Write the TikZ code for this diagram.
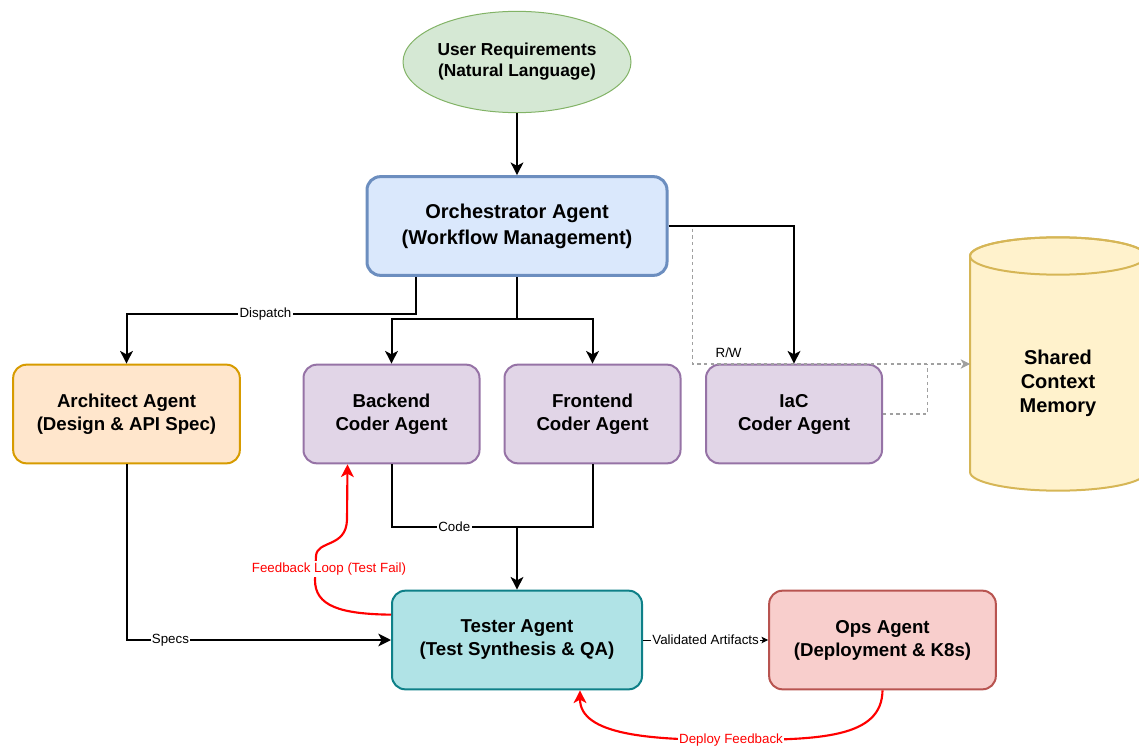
\documentclass[tikz,border=0pt]{standalone}
\usepackage{fontspec}
\setmainfont{Liberation Sans}
\usepackage{tikz}
\usetikzlibrary{arrows.meta, positioning, shapes.geometric}

\definecolor{usrfill}{HTML}{D5E8D4}  \definecolor{usrline}{HTML}{82B366}
\definecolor{orcfill}{HTML}{DAE8FC}  \definecolor{orcline}{HTML}{6C8EBF}
\definecolor{arcfill}{HTML}{FFE6CC}  \definecolor{arcline}{HTML}{D79B00}
\definecolor{codfill}{HTML}{E1D5E7}  \definecolor{codline}{HTML}{9673A6}
\definecolor{tstfill}{HTML}{B0E3E6}  \definecolor{tstline}{HTML}{0E8088}
\definecolor{opsfill}{HTML}{F8CECC}  \definecolor{opsline}{HTML}{B85450}
\definecolor{memfill}{HTML}{FFF2CC}  \definecolor{memline}{HTML}{D6B656}
\definecolor{rwgray}{HTML}{A0A0A0}
\definecolor{fbred}{HTML}{FF0000}

\newcommand{\userfont}{\fontsize{13}{15.75}\selectfont\bfseries}
\newcommand{\orchfont}{\fontsize{15}{19.5}\selectfont\bfseries}
\newcommand{\agentfont}{\fontsize{14}{17.25}\selectfont\bfseries}
\newcommand{\memfont}{\fontsize{15}{18}\selectfont\bfseries}
\newcommand{\lblfont}{\fontsize{10}{12}\selectfont}

\tikzset{
  agentbox/.style = {draw, rounded corners=10pt, line width=1.5pt, align=center,
                     inner sep=0pt, minimum height=74pt, font=\agentfont},
  archbox/.style  = {agentbox, draw=arcline, fill=arcfill, minimum width=170pt},
  coderbox/.style = {agentbox, draw=codline, fill=codfill, minimum width=132pt},
  testbox/.style  = {agentbox, draw=tstline, fill=tstfill, minimum width=187.5pt},
  opsbox/.style   = {agentbox, draw=opsline, fill=opsfill, minimum width=170pt},
  orchbox/.style  = {agentbox, draw=orcline, fill=orcfill, line width=2.25pt,
                     minimum width=225pt, font=\orchfont},
  userbox/.style  = {ellipse, draw=usrline, fill=usrfill, line width=0.75pt, align=center,
                     inner sep=0pt, minimum width=171pt, minimum height=76pt, font=\userfont},
  conn/.style     = {line width=1.5pt},
  flow/.style     = {conn, -{Stealth[length=9.5pt, width=9.5pt, inset=2.5pt]}},
  thinflow/.style = {line width=0.75pt, -{Stealth[length=5pt, width=5pt, inset=1.2pt]}},
  rwflow/.style   = {rwgray, line width=0.8pt, dash pattern=on 2.5pt off 2.5pt,
                     -{Stealth[length=7pt, width=7pt, inset=2pt]}},
  fbflow/.style   = {fbred, line width=1.6pt, -{Stealth[length=9.5pt, width=9.5pt, inset=2.5pt]}},
  lbl/.style      = {font=\lblfont, fill=white, inner sep=1pt},
  fblbl/.style    = {lbl, text=fbred},
}

\begin{document}
\begin{tikzpicture}[x=0.75pt, y=-0.75pt]

\useasboundingbox (0,0) rectangle (1139,749);

% shared memory store
\path [draw=memline, fill=memfill, line width=1.5pt]
  (970,256) -- (970,472) arc [start angle=180, end angle=360, x radius=66pt, y radius=14pt]
  -- (1146,256) arc [start angle=0, end angle=180, x radius=66pt, y radius=14pt] -- cycle;
\path [draw=memline, line width=1.5pt] (1058,256) ellipse [x radius=66pt, y radius=14pt];

\node [align=center, font=\memfont] (mem)      at (1058,383) {Shared\\Context\\Memory};
\coordinate                         (memin)    at (970,364);

\node [userbox ] (user)     at (517,62)    {User Requirements\\(Natural Language)};
\node [orchbox ] (orch)     at (517,226)   {Orchestrator Agent\\(Workflow Management)};
\node [archbox ] (arch)     at (126.5,414) {Architect Agent\\(Design \& API Spec)};
\node [coderbox] (backend)  at (391.5,414) {Backend\\Coder Agent};
\node [coderbox] (frontend) at (592.5,414) {Frontend\\Coder Agent};
\node [coderbox] (iac)      at (794,414)   {IaC\\Coder Agent};
\node [testbox ] (tester)   at (517,640)   {Tester Agent\\(Test Synthesis \& QA)};
\node [opsbox  ] (ops)      at (882.5,640) {Ops Agent\\(Deployment \& K8s)};

\coordinate (split)    at (517,319);
\coordinate (codejoin) at (517,527);

% read / write to the shared memory
\path [draw, rwflow] (orch.east) -- ++(24,0) |- node [pos=0.565, above=1pt, font=\lblfont, text=black] {R/W} (memin);
\path [draw, rwflow, -] (iac.east) -| ([xshift=-32pt]memin);

% dispatch
\path [draw, flow] (user) -- (orch);
\path [draw, flow] ([xshift=-75.75pt]orch.south) -- ++(0,37) -| node [lbl, pos=0.26] {Dispatch} (arch);
\path [draw, conn] (orch.south) -- (split);
\path [draw, flow] (split) -| (backend);
\path [draw, flow] (split) -| (frontend);
\path [draw, flow] (orch.east) -| (iac);

% code and specs into testing
\path [draw, conn] (backend)  |- node [lbl, pos=0.75] {Code} (codejoin);
\path [draw, conn] (frontend) |- (codejoin);
\path [draw, flow] (codejoin) -- (tester);
\path [draw, flow] (arch) |- node [lbl, pos=0.583] {Specs} (tester);
\path [draw, thinflow] (tester) -- node [lbl] {Validated Artifacts} (ops);

% feedback
\path [draw, fbflow] ([yshift=19pt]tester.west)
  .. controls (340,614) and (315,606) .. (315,580) -- (316,556)
  .. controls (317,540) and (346,548) .. (347,520) -- ([xshift=-33pt]backend.south);
\node [fblbl] (fbtext) at (329,569) {Feedback Loop (Test Fail)};
\path [draw, fbflow] (ops.south)
  .. controls (882,738) and (820,740) .. (731,740) node [fblbl] {Deploy Feedback}
  .. controls (650,740) and (580,735) .. ([xshift=47.25pt]tester.south);

\end{tikzpicture}
\end{document}
